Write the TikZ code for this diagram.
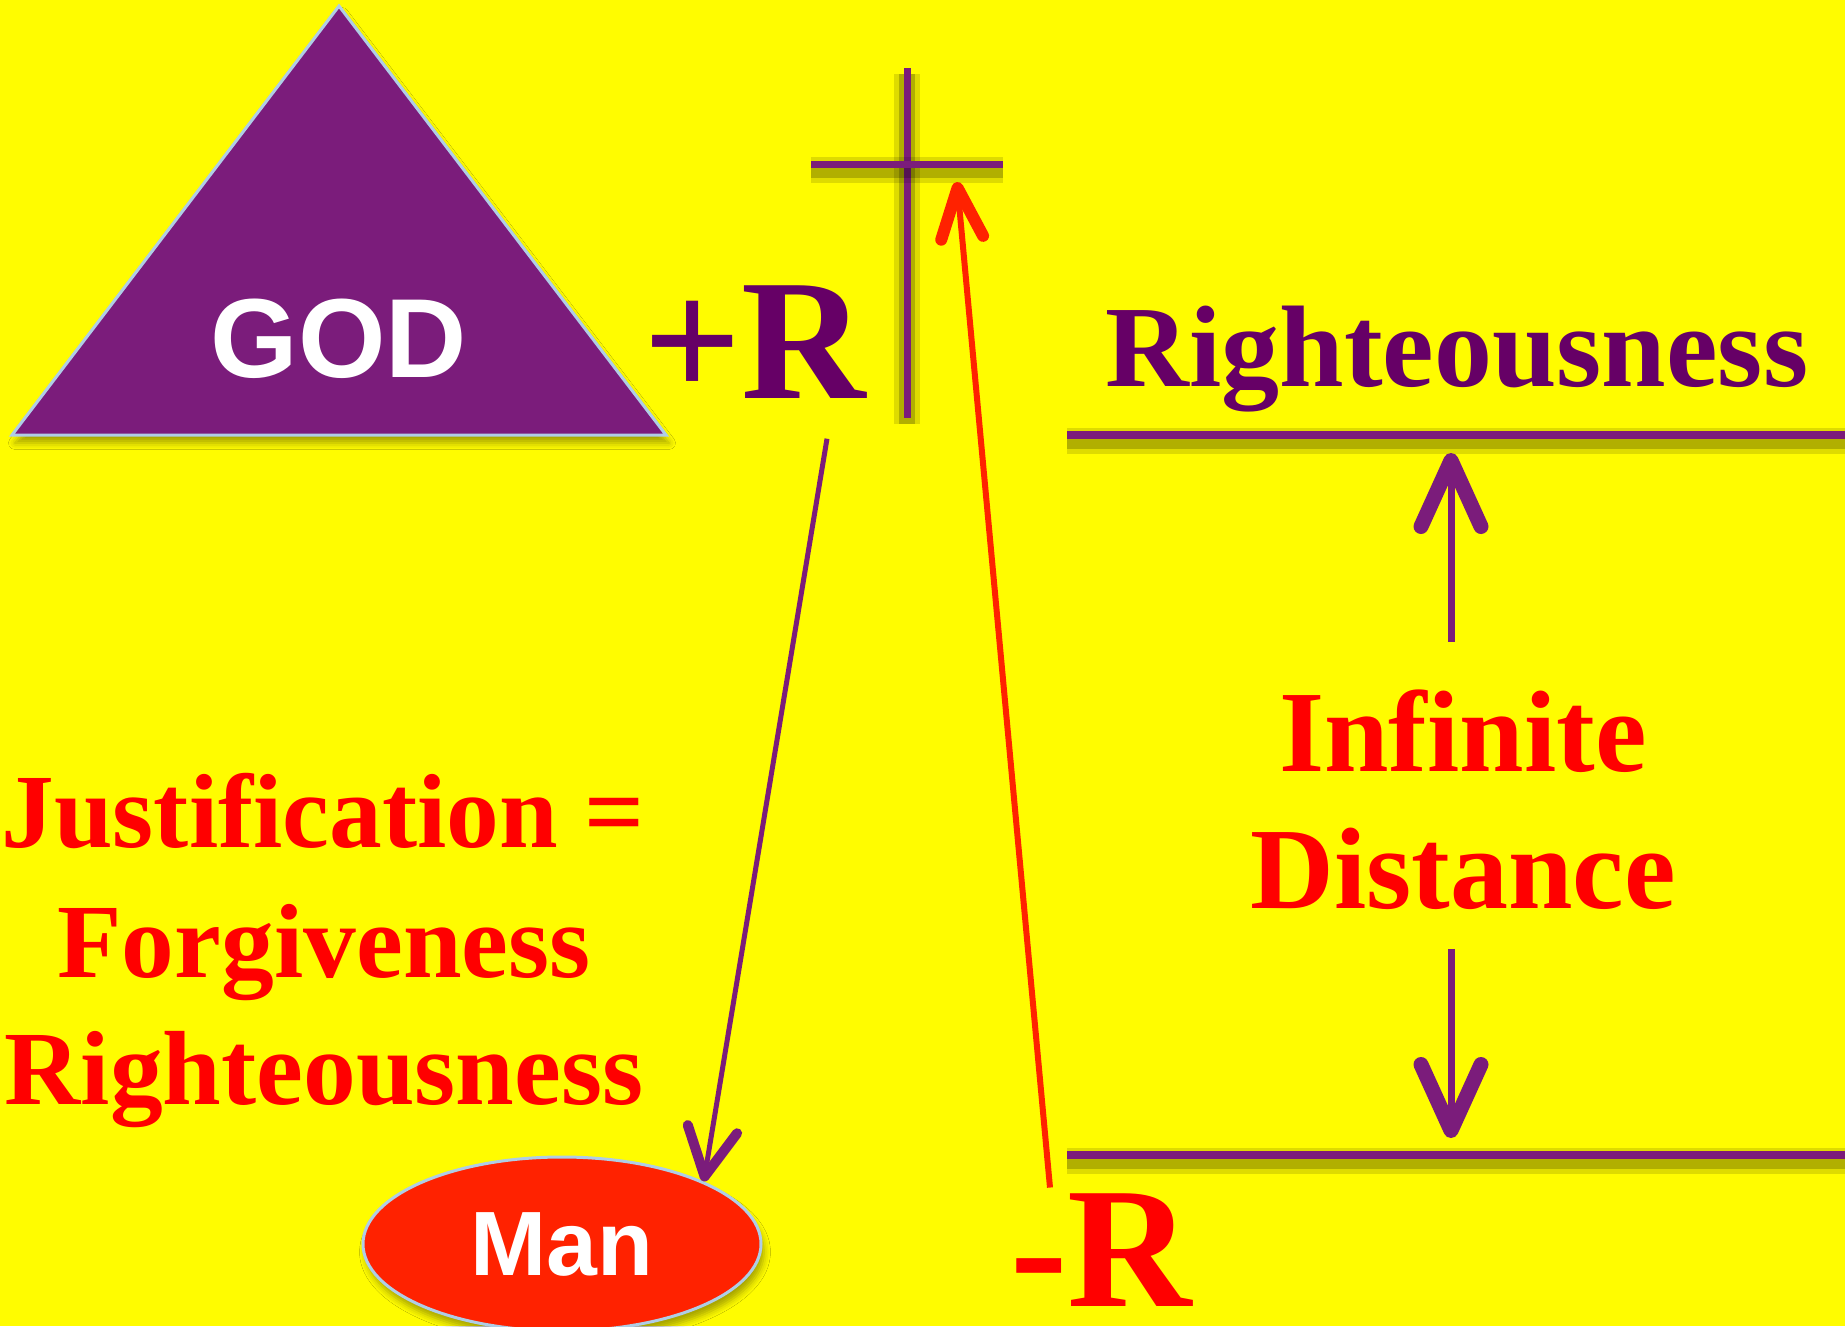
\documentclass[tikz,border=0pt]{standalone}
\usepackage{fontspec}
\setmainfont{Liberation Serif}
\newfontfamily\godsans{Liberation Sans}
\usepackage{xcolor}
\definecolor{bgyellow}{RGB}{255,252,0}
\definecolor{godpurple}{RGB}{123,28,123}
\definecolor{rpurple}{RGB}{102,0,102}
\definecolor{manred}{RGB}{255,34,0}
\definecolor{textred}{RGB}{255,0,0}
\definecolor{rimblue}{RGB}{175,205,230}
\usepackage{tikz}
\usetikzlibrary{
    arrows.meta,
    positioning,
    shapes.geometric,
    shadows.blur
}
\tikzset{
    godtri/.style     = {fill=godpurple, draw=rimblue, line width=0.3mm,
                         blur shadow={shadow xshift=0.3mm, shadow yshift=-0.8mm,
                         shadow opacity=35}},
    godlbl/.style     = {anchor=base, text=white,
                         font=\godsans\bfseries\fontsize{32}{38}\selectfont},
    bigR/.style       = {anchor=base, font=\bfseries\fontsize{49}{58}\selectfont},
    headword/.style   = {anchor=base, font=\bfseries\fontsize{33}{39}\selectfont},
    sideword/.style   = {anchor=base, text=textred,
                         font=\bfseries\fontsize{30}{36}\selectfont},
    lineshade/.style  = {preaction={draw=black, draw opacity=.13, line width=2.6mm,
                         transform canvas={yshift=-0.6mm}},
                         preaction={draw=black, draw opacity=.2, line width=1.6mm,
                         transform canvas={yshift=-0.6mm}}},
    crossbar/.style   = {draw=godpurple, line width=0.7mm, lineshade},
    levelline/.style  = {draw=godpurple, line width=0.75mm, lineshade},
    purplearrow/.style= {draw=godpurple, line width=0.5mm,
                         -{Straight Barb[length=4.8mm, width=5mm, line width=1mm, round]}},
    redarrow/.style   = {draw=manred, line width=0.6mm,
                         -{Straight Barb[length=5mm, width=4.2mm, line width=1.2mm, round]}},
    distarrow/.style  = {draw=godpurple, line width=0.7mm,
                         -{Straight Barb[length=6.6mm, width=6mm, line width=1.5mm, round]}}
}

\begin{document}
\begin{tikzpicture}[
    x=0.1mm, y=-0.1mm,
    every node/.append style = {inner sep=0pt},
    manoval/.style = {ellipse, fill=manred, draw=rimblue, line width=0.3mm,
                      minimum width=39.8mm, minimum height=17.4mm,
                      text=white, font=\godsans\bfseries\fontsize{26}{31}\selectfont,
                      blur shadow={shadow xshift=0.3mm, shadow yshift=-0.8mm,
                      shadow opacity=35}}
]

% --- Background and page size ---
\fill[bgyellow] (0,0) rectangle (1845,1326);
\useasboundingbox (0,0) rectangle (1845,1326);

% --- God ---
\coordinate (apex)  at (339,6);
\coordinate (baseL) at (12,435);
\coordinate (baseR) at (666,435);
\path[godtri] (apex) -- (baseR) -- (baseL) -- cycle;
\node[godlbl] (god) at (339,377) {GOD};

% --- +R and the cross ---
\node[bigR, text=rpurple] (plusr) at (755,398) {+R};
\coordinate (crux) at (907,164);
\draw[crossbar] (907,68) -- (907,418);
\draw[crossbar] (811,164) -- (1003,164);

% --- Man and -R ---
\node[manoval] (man) at (562,1244) {Man};
\node[bigR, text=textred] (minusr) at (1101,1306) {-R};

% --- Left label ---
\node[sideword] (just)  at (323,847)  {Justification =};
\node[sideword] (forg)  at (324,977)  {Forgiveness};
\node[sideword] (right) at (324,1104) {Righteousness};

% --- Right side: levels ---
\draw[levelline] (1067,435) coordinate (hiL) -- (1845,435);
\draw[levelline] (1067,1155) coordinate (loL) -- (1845,1155);
\node[headword, text=rpurple] (rtop) at (1457,386) {Righteousness};
\node[headword, text=textred] (inf)  at (1463,771) {Infinite};
\node[headword, text=textred] (dist) at (1463,908) {Distance};

% --- Arrows ---
\draw[purplearrow] ([shift={(72,40)}]plusr.south) -- (man.north east);
\draw[redarrow] ([shift={(-51,-5)}]minusr.north) -- ([shift={(50,18)}]crux);
\draw[distarrow, shorten <=4.7mm, shorten >=1.8mm]
   ([xshift=-1.2mm]inf.north) -- ([xshift=-1.2mm]inf.north |- hiL);
\draw[distarrow, shorten <=3.9mm, shorten >=1.7mm]
   ([xshift=-1.2mm]dist.south) -- ([xshift=-1.2mm]dist.south |- loL);

\end{tikzpicture}
\end{document}
